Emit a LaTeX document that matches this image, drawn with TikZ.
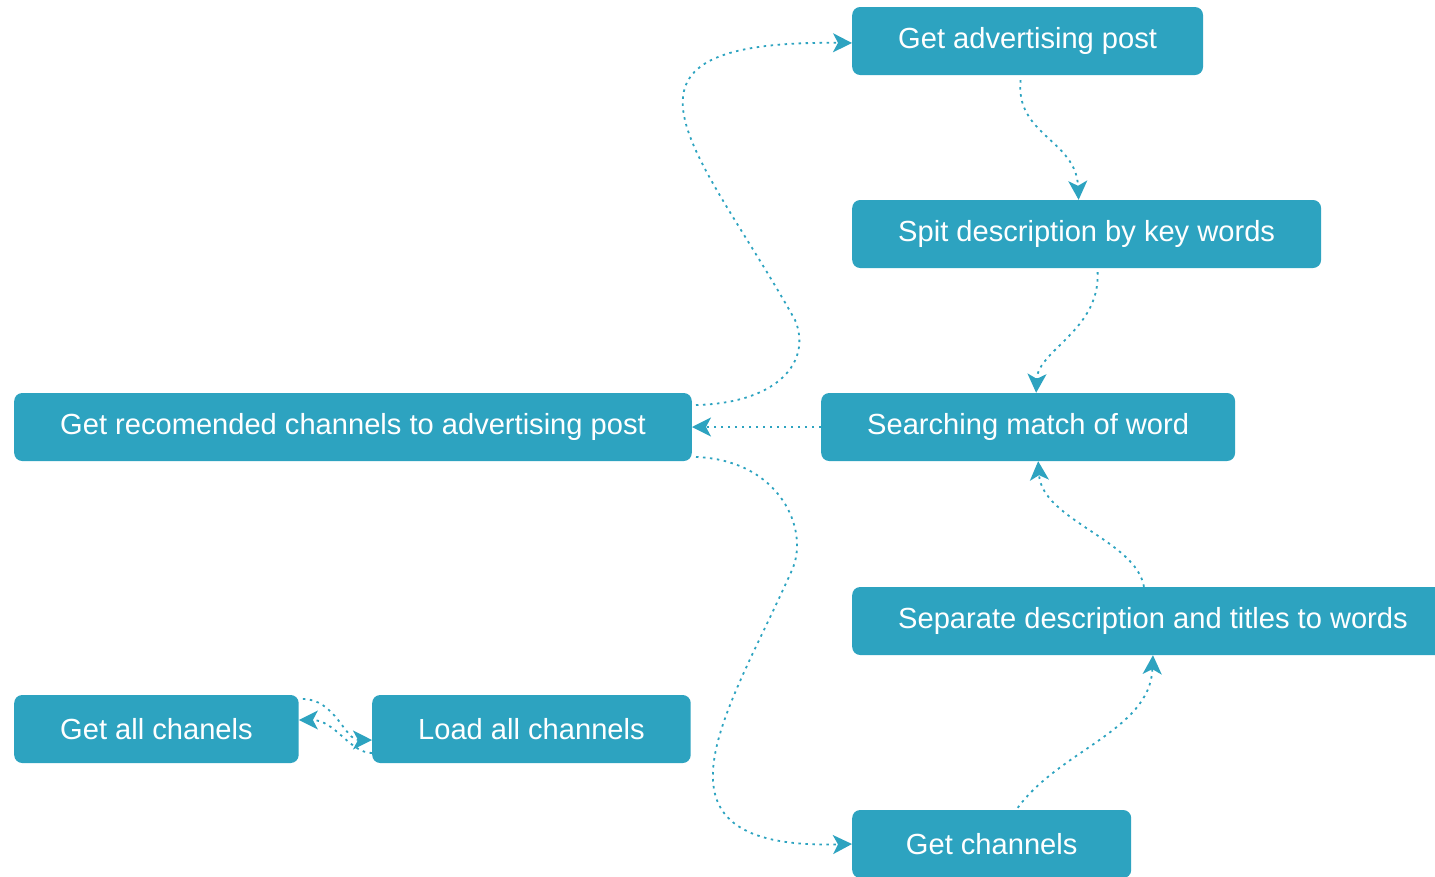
\documentclass[tikz,border=0pt]{standalone}
\usepackage{fontspec}
\setmainfont{Liberation Sans}
\usetikzlibrary{arrows.meta}
\definecolor{boxteal}{RGB}{45,163,192}
\tikzset{
	stepnode/.style={fill=boxteal, text=white, rounded corners=8pt, minimum height=68pt, inner xsep=46pt, inner ysep=0pt, anchor=west, font=\fontsize{29.1}{34}\selectfont},
	flow/.style={color=boxteal, line width=1.8pt, dash pattern=on 2.5pt off 4.5pt, -{Stealth[length=19pt,width=19pt,inset=5pt]}}
}

\begin{document}
\begin{tikzpicture}[x=1pt, y=-1pt]
			%%%%% START %%%%%
			\useasboundingbox (0, 0) rectangle (1435, 876);
			
			\node[stepnode] (advpost) at (852, 41) {Get advertising post};
			\node[stepnode] (split) at (852, 234) {Spit description by key words};
			\node[stepnode] (search) at (821, 427) {Searching match of word};
			\node[stepnode] (recom) at (14, 427) {Get recomended channels to advertising post};
			\node[stepnode] (separate) at (852, 621) {Separate description and titles to words};
			\node[stepnode] (getall) at (14, 729) {Get all chanels};
			\node[stepnode] (loadall) at (372, 729) {Load all channels};
			\node[stepnode, minimum width=279pt] (getch) at (852, 844) {Get channels};
			
			% recomended -> advertising post
			\draw[flow] ([xshift=4pt, yshift=22pt]recom.east) .. controls (780, 403) and (812, 360) .. (795, 320)
				.. controls (700, 150) and (580, 40) .. ([yshift=-2pt]advpost.west);
			
			% right column, top down
			\draw[flow] ([xshift=-7pt, yshift=-5pt]advpost.south) .. controls (1015, 135) and (1076, 140) .. ([xshift=-8pt]split.north);
			\draw[flow] ([xshift=11pt, yshift=-4pt]split.south) .. controls (1100, 330) and (1038, 350) .. ([xshift=8pt]search.north);
			\draw[flow] (search.west) -- (recom.east);
			
			% right column, bottom up
			\draw[flow] ([xshift=-9pt]separate.north) .. controls (1136, 540) and (1042, 520) .. ([xshift=10pt]search.south);
			\draw[flow] ([xshift=26pt, yshift=2pt]getch.north) .. controls (1060, 750) and (1150, 730) .. (separate.south);
			
			% recomended -> channels
			\draw[flow] ([xshift=4pt, yshift=-30pt]recom.east) .. controls (780, 460) and (810, 530) .. (792, 570)
				.. controls (730, 710) and (630, 850) .. (getch.west);
			
			% all channels, both ways
			\draw[flow] ([xshift=4pt, yshift=30pt]getall.east) .. controls (335, 699) and (345, 740) .. ([yshift=-11pt]loadall.west);
			\draw[flow] ([yshift=-24pt]loadall.west) .. controls (350, 753) and (335, 720) .. ([yshift=9pt]getall.east);
			
			%%%%% END %%%%%
\end{tikzpicture}
\end{document}
